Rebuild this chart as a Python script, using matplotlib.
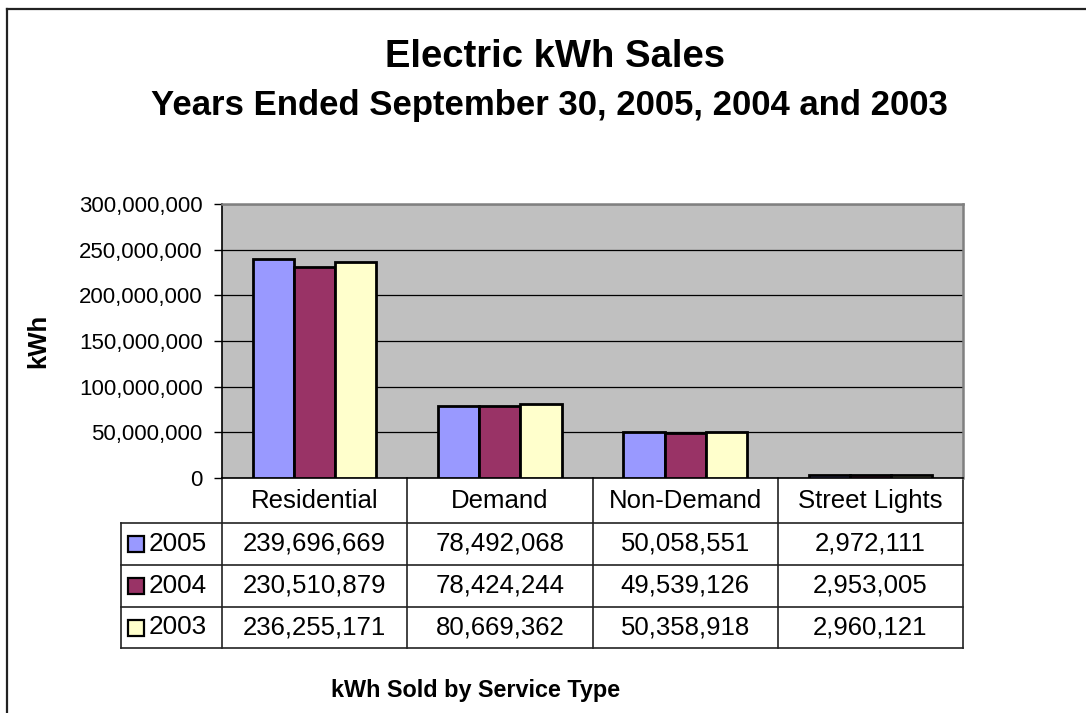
import matplotlib
matplotlib.use('Agg')
import matplotlib.pyplot as plt
from matplotlib.lines import Line2D
from matplotlib.ticker import FuncFormatter

plt.rcParams['font.family'] = ['Liberation Sans', 'DejaVu Sans']

categories = ['Residential', 'Demand', 'Non-Demand', 'Street Lights']
years = ['2005', '2004', '2003']
sales_2005 = [239696669, 78492068, 50058551, 2972111]
sales_2004 = [230510879, 78424244, 49539126, 2953005]
sales_2003 = [236255171, 80669362, 50358918, 2960121]
series = [sales_2005, sales_2004, sales_2003]
colors = ['#9999FF', '#993366', '#FFFFCC']

W, H = 1086, 713
L, R, T, B = 222, 963, 204, 478

fig = plt.figure(figsize=(W / 100, H / 100), dpi=100)
ax = fig.add_axes([L / W, 1 - B / H, (R - L) / W, (B - T) / H])
ax.set_facecolor('#C0C0C0')

def ax_x(px):
    return (px - L) / (R - L)

def ax_y(py):
    return (B - py) / (B - T)

# bars
bw = 0.222
n = len(categories)
for i, vals in enumerate(series):
    xs = [c + (i - 1) * bw for c in range(n)]
    ax.bar(xs, vals, width=bw, color=colors[i], edgecolor='black',
           linewidth=2, zorder=3)

ax.set_xlim(-0.5, n - 0.5)
ax.set_ylim(0, 300000000)
ax.set_yticks(range(0, 300000001, 50000000))
ax.yaxis.set_major_formatter(FuncFormatter(lambda v, p: '{:,.0f}'.format(v)))
ax.tick_params(axis='y', direction='out', length=6, width=1, pad=8,
               labelsize=16, colors='black')
ax.set_xticks([])
ax.grid(axis='y', color='black', linewidth=0.9, zorder=1)
ax.set_axisbelow(True)
for s in ['top', 'right']:
    ax.spines[s].set_color('#808080')
    ax.spines[s].set_linewidth(1.8)
for s in ['left', 'bottom']:
    ax.spines[s].set_color('black')
    ax.spines[s].set_linewidth(1.2)

# data table below the plot
tx = ax.get_xaxis_transform()
lc = '#222222'
row_lines = [523, 565, 607, 648]
for py in row_lines:
    ax.add_line(Line2D([ax_x(121), 1], [ax_y(py)] * 2, transform=ax.transAxes,
                       color=lc, lw=1.2, clip_on=False))
for b in [c - 0.5 for c in range(n + 1)]:
    ax.add_line(Line2D([b, b], [0, ax_y(648)], transform=tx,
                       color=lc, lw=1.2, clip_on=False))
ax.add_line(Line2D([ax_x(121)] * 2, [ax_y(523), ax_y(648)], transform=ax.transAxes,
                   color=lc, lw=1.2, clip_on=False))

for c, name in enumerate(categories):
    ax.text(c, ax_y(501), name, transform=tx, ha='center', va='center',
            fontsize=18.5, clip_on=False)

row_centers = [544, 586, 627.5]
for i, vals in enumerate(series):
    yc = ax_y(row_centers[i])
    for c, v in enumerate(vals):
        ax.text(c, yc, '{:,}'.format(v), transform=tx, ha='center',
                va='center', fontsize=18.5, clip_on=False)
    ax.plot([ax_x(135.5)], [yc], marker='s', markersize=12,
            markerfacecolor=colors[i], markeredgecolor='black',
            markeredgewidth=1.6, transform=ax.transAxes, clip_on=False)
    ax.text(ax_x(149), yc, years[i], transform=ax.transAxes, ha='left',
            va='center', fontsize=18.8, clip_on=False)

# titles and labels
fig.text(555 / W, 1 - 57 / H, 'Electric kWh Sales', ha='center', va='center',
         fontsize=27.5, fontweight='bold')
fig.text(549 / W, 1 - 105 / H, 'Years Ended September 30, 2005, 2004 and 2003',
         ha='center', va='center', fontsize=25, fontweight='bold')
fig.text(38 / W, 1 - 341 / H, 'kWh', rotation=90, ha='center', va='center',
         fontsize=18.5, fontweight='bold')
fig.text(476 / W, 1 - 690 / H, 'kWh Sold by Service Type', ha='center',
         va='center', fontsize=16.8, fontweight='bold')

# outer chart frame (top and left edges visible)
fig.add_artist(Line2D([7 / W, 1.0], [1 - 9 / H] * 2, transform=fig.transFigure,
                      color='#222222', lw=1.6))
fig.add_artist(Line2D([7 / W] * 2, [0, 1 - 9 / H], transform=fig.transFigure,
                      color='#222222', lw=1.6))

fig.savefig('out.png', dpi=100)
